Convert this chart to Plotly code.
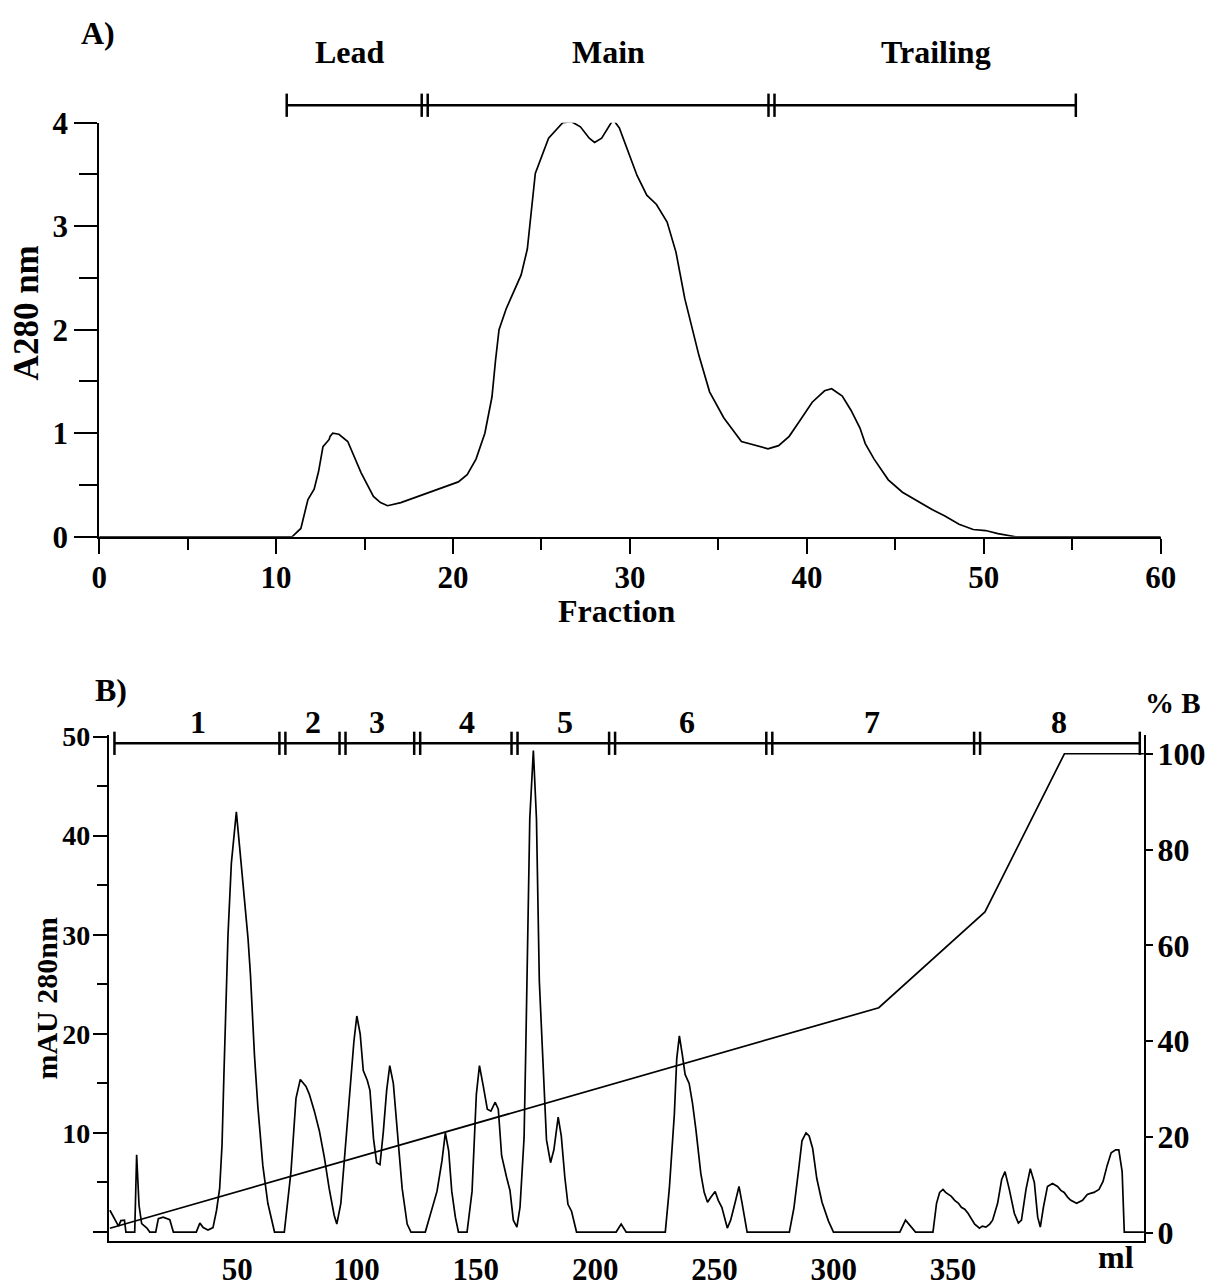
import plotly.graph_objects as go

# ---------------- Panel A: A280 elution profile vs fraction number ----------------
fraction = [0, 10.9, 11.4, 11.8, 12.15, 12.4, 12.65, 13.0, 13.05, 13.2, 13.55, 14.05, 14.8,
            15.1, 15.5, 15.9, 16.3, 17.05, 18.0, 18.8, 19.5, 20.3, 20.8, 21.3, 21.8, 22.2,
            22.4, 22.6, 23.0, 23.35, 23.85, 24.2, 24.65, 25.4, 26.2, 26.7, 27.2, 27.7, 28.0,
            28.4, 29.05, 29.4, 30.0, 30.4, 30.95, 31.5, 32.1, 32.6, 33.1, 33.9, 34.5, 35.3,
            36.3, 37.2, 37.8, 38.4, 39.0, 39.6, 40.3, 41.0, 41.4, 42.0, 42.5, 43.0, 43.3,
            43.8, 44.6, 45.4, 46.1, 47.1, 47.8, 48.6, 49.4, 50.1, 50.8, 51.8, 60]
a280 = [0, 0, 0.08, 0.36, 0.46, 0.63, 0.87, 0.94, 0.97, 1.0, 0.99, 0.92, 0.62,
        0.52, 0.39, 0.33, 0.30, 0.33, 0.39, 0.44, 0.48, 0.53, 0.60, 0.75, 1.0, 1.35,
        1.7, 2.0, 2.2, 2.34, 2.53, 2.78, 3.51, 3.85, 4.0, 4.01, 3.96, 3.85, 3.81,
        3.85, 4.03, 3.95, 3.68, 3.49, 3.30, 3.21, 3.04, 2.75, 2.30, 1.75, 1.4, 1.15,
        0.92, 0.88, 0.85, 0.88, 0.97, 1.12, 1.3, 1.41, 1.43, 1.36, 1.22, 1.05, 0.9,
        0.75, 0.55, 0.43, 0.36, 0.26, 0.2, 0.12, 0.07, 0.06, 0.03, 0, 0]

pool_names = ["Lead", "Main", "Trailing"]
pool_bounds = [10.6, 18.4, 38.0, 55.2]
pool_label_x = [14.2, 28.8, 47.3]

# ---------------- Panel B: chromatogram (mAU) and gradient (%B) vs volume ----------------
volume_ml = [-3.4, -1.3, 0.2, 1.2, 2.7, 3.3, 7.0, 7.8, 8.8, 9.9, 12.1, 13.3, 15.8, 16.9,
             18.9, 21.7, 23.2, 32.8, 34.3, 35.7, 37.7, 39.8, 41.3, 42.6, 43.6, 44.4, 45.4,
             46.1, 47.5, 49.6, 51.6, 54.5, 55.5, 57.2, 58.6, 60.7, 62.8, 65.6, 69.7, 72.5,
             74.6, 76.4, 78.8, 80.2, 82.3, 84.4, 86.5, 88.5, 90.6, 91.7, 93.4, 95.5, 97.6,
             98.9, 100.1, 101.5, 102.8, 104.5, 105.6, 107.1, 108.4, 109.8, 111.2, 112.6,
             113.9, 115.4, 117.1, 119.1, 121.2, 122.8, 128.8, 133.7, 135.8, 137.2, 138.6,
             139.9, 141.4, 142.7, 146.3, 148.4, 150.2, 151.5, 153.2, 154.8, 156.3, 158.1,
             159.4, 160.8, 162.9, 164.3, 165.7, 167.2, 168.5, 170.2, 170.9, 171.5, 172.6,
             174.1, 175.4, 176.6, 177.5, 178.5, 179.6, 181.3, 182.7, 184.5, 185.8, 187.3,
             188.6, 190.1, 192.2, 208.8, 210.9, 213.0, 229.4, 231.1, 233.2, 234.2, 235.3,
             236.6, 237.7, 239.4, 240.8, 242.2, 244.3, 245.7, 247.1, 248.5, 250.3, 251.6,
             253.1, 255.4, 256.8, 258.6, 260.3, 261.6, 262.8, 263.7, 281.4, 283.3, 285.3,
             286.7, 288.4, 289.7, 291.2, 292.9, 295.1, 297.8, 299.9, 327.7, 330.1, 332.6,
             334.3, 341.6, 343.1, 344.4, 345.8, 346.9, 347.9, 349.3, 350.7, 352.3, 353.5,
             354.9, 356.3, 357.8, 359.1, 361.1, 362.3, 363.8, 365.4, 366.6, 368.7, 370.4,
             371.8, 373.6, 375.7, 377.4, 378.7, 380.6, 382.4, 384.1, 385.5, 386.6, 387.9,
             389.6, 391.7, 393.8, 395.2, 396.6, 398.1, 399.4, 401.8, 404.3, 406.3, 407.6,
             409.1, 411.2, 412.9, 414.6, 416.3, 418.2, 419.5, 420.9, 421.8, 430.0]
mau_280 = [2.2, 1.35, 0.6, 1.15, 1.2, 0, 0, 7.8, 2.7, 0.85, 0.4, 0, 0, 1.35,
           1.5, 1.25, 0, 0, 0.9, 0.45, 0.2, 0.45, 2.2, 4.4, 8.8, 16.0, 26.0,
           30.0, 37.2, 42.4, 37.2, 29.6, 26.0, 17.8, 12.7, 6.7, 2.9, 0, 0, 6.1,
           13.5, 15.4, 14.7, 13.9, 12.2, 10.2, 7.5, 4.4, 1.7, 0.8, 2.9, 9.4, 16.0,
           19.3, 21.8, 20.0, 16.3, 15.3, 14.3, 9.4, 7.0, 6.8, 10.1, 14.3,
           16.8, 15.0, 10.1, 4.4, 0.8, 0, 0, 4.1, 7.2, 10.0, 8.2,
           4.1, 1.5, 0, 0, 4.1, 13.9, 16.8, 14.6, 12.4, 12.2, 13.1,
           12.4, 7.7, 5.5, 4.2, 1.2, 0.5, 2.5, 9.5, 18.2, 25.3, 41.7,
           48.6, 41.7, 25.3, 20.0, 14.1, 9.3, 7.0, 8.3, 11.6, 9.7, 5.5,
           2.8, 2.1, 0, 0, 0.8, 0, 0, 4.4, 11.9, 17.5, 19.8,
           17.8, 15.9, 15.0, 13.0, 10.4, 5.9, 4.0, 3.0, 3.5, 4.1, 3.2,
           2.5, 0.4, 1.2, 2.9, 4.6, 2.9, 1.2, 0, 0, 2.4, 6.3,
           9.2, 10.0, 9.7, 8.4, 5.4, 3.0, 1.1, 0, 0, 1.2, 0.5,
           0, 0, 2.9, 4.0, 4.3, 4.0, 3.8, 3.6, 3.2, 2.9, 2.5,
           2.3, 1.9, 1.3, 0.8, 0.4, 0.6, 0.5, 0.8, 1.2, 2.9, 5.3,
           6.1, 4.3, 1.9, 0.9, 1.2, 4.3, 6.4, 5.0, 1.5, 0.5, 2.5,
           4.6, 4.9, 4.6, 4.2, 4.0, 3.5, 3.2, 2.9, 3.2, 3.8, 3.9,
           4.0, 4.3, 5.1, 6.7, 8.0, 8.3, 8.3, 6.1, 0, 0]

gradient_ml = [-3.4, 318.9, 363.4, 396.7, 430.0]
gradient_pct_b = [1, 47, 67, 100, 100]

fraction_names = ["1", "2", "3", "4", "5", "6", "7", "8"]
fraction_bounds = [-1.5, 68.9, 94.1, 125.4, 166.2, 207.1, 273.0, 360.1, 428.3]
fraction_label_x = [33.6, 81.6, 108.7, 146.3, 187.3, 238.7, 315.9, 394.5]

# ---------------- figure geometry (pixels) ----------------
W, H = 1214, 1287


def px_x(p):
    return p / W


def px_y(p):
    return 1 - p / H


FONT = "Liberation Serif"
BLACK = "black"


def bold(size):
    return dict(family=FONT, size=size, color=BLACK, weight="bold")


tick_font = bold(31)
label_font = bold(32)

fig = go.Figure()

fig.add_trace(go.Scatter(x=fraction, y=a280, mode="lines", xaxis="x", yaxis="y",
                         line=dict(color=BLACK, width=1.7), showlegend=False))
fig.add_trace(go.Scatter(x=volume_ml, y=mau_280, mode="lines", xaxis="x2", yaxis="y2",
                         line=dict(color=BLACK, width=1.7), showlegend=False))
fig.add_trace(go.Scatter(x=gradient_ml, y=gradient_pct_b, mode="lines", xaxis="x2", yaxis="y3",
                         line=dict(color=BLACK, width=1.7), showlegend=False))

axis_common = dict(showgrid=False, zeroline=False, showline=True, linecolor=BLACK,
                   linewidth=2, tickcolor=BLACK, tickwidth=2)

fig.update_layout(
    width=W, height=H,
    margin=dict(l=0, r=0, t=0, b=0),
    paper_bgcolor="white", plot_bgcolor="white",
    showlegend=False,
    xaxis=dict(domain=[px_x(93), px_x(1176)], range=[0, 60], anchor="y",
               ticks="outside", ticklen=15, tickvals=[0, 10, 20, 30, 40, 50, 60],
               minor=dict(ticks="outside", ticklen=11, tickwidth=2, tickcolor=BLACK,
                          tickvals=[5, 15, 25, 35, 45, 55]),
               tickfont=tick_font, ticklabelstandoff=-3, **axis_common),
    yaxis=dict(domain=[px_y(536), px_y(109)], range=[0, 4], anchor="x",
               ticks="outside", ticklen=23, tickvals=[0, 1, 2, 3, 4],
               minor=dict(ticks="outside", ticklen=18, tickwidth=2, tickcolor=BLACK,
                          tickvals=[0.5, 1.5, 2.5, 3.5]),
               tickfont=tick_font, **axis_common),
    xaxis2=dict(domain=[px_x(103), px_x(1159)], range=[-3.8, 430.1], anchor="y2",
                ticks="", tickvals=[50, 100, 150, 200, 250, 300, 350],
                tickfont=tick_font, ticklabelstandoff=0, **axis_common),
    yaxis2=dict(domain=[px_y(1262), px_y(740)], range=[-0.88, 50.2], anchor="x2",
                ticks="outside", ticklen=14, tickvals=[0, 10, 20, 30, 40, 50],
                ticktext=["", "10", "20", "30", "40", "50"],
                minor=dict(ticks="outside", ticklen=10, tickwidth=2, tickcolor=BLACK,
                           tickvals=[5, 15, 25, 35, 45]),
                tickfont=bold(28), ticklabelstandoff=-3, **axis_common),
    yaxis3=dict(range=[-1.62, 104.0], anchor="x2", overlaying="y2", side="right",
                ticks="outside", ticklen=7, tickvals=[0, 20, 40, 60, 80, 100],
                tickfont=bold(32), ticklabelstandoff=-2, **axis_common),
)

shapes = []
annotations = []


def add_bracket(xref, bounds, y_line_px, half_px):
    yl = px_y(y_line_px)
    y0 = px_y(y_line_px + half_px)
    y1 = px_y(y_line_px - half_px)
    line = dict(color=BLACK, width=2.5)
    shapes.append(dict(type="line", xref=xref, yref="paper", x0=bounds[0], x1=bounds[-1],
                       y0=yl, y1=yl, line=line))
    for i, b in enumerate(bounds):
        offsets = [0] if i in (0, len(bounds) - 1) else [-3, 3]
        for off in offsets:
            shapes.append(dict(type="line", xref=xref, yref="paper", xsizemode="pixel",
                               xanchor=b, x0=off, x1=off, y0=y0, y1=y1, line=line))


add_bracket("x", pool_bounds, 91, 12)
add_bracket("x2", fraction_bounds, 749, 12)

for name, xc in zip(pool_names, pool_label_x):
    annotations.append(dict(text=name, x=xc, y=px_y(36), xref="x", yref="paper",
                            showarrow=False, font=label_font, xanchor="center", yanchor="middle"))
for name, xc in zip(fraction_names, fraction_label_x):
    annotations.append(dict(text=name, x=xc, y=px_y(727), xref="x2", yref="paper",
                            showarrow=False, font=label_font, xanchor="center", yanchor="middle"))


def text_at(text, x, y, font, angle=0, xanchor="center"):
    annotations.append(dict(text=text, x=px_x(x), y=px_y(y), xref="paper", yref="paper",
                            showarrow=False, font=font, textangle=angle,
                            xanchor=xanchor, yanchor="middle"))


# panel tags, axis titles and units
text_at("A)", 92, 16, label_font)
text_at("B)", 105, 694, label_font)
text_at("Fraction", 621, 613, label_font)
text_at("A280 nm", 19, 305, bold(35), angle=-90)
text_at("mAU 280nm", 39, 1012, bold(30), angle=-90)
text_at("% B", 1188, 707, bold(29))
text_at("ml", 1130, 1279, label_font)

fig.update_layout(shapes=shapes, annotations=annotations)

fig.write_html("out.html")
